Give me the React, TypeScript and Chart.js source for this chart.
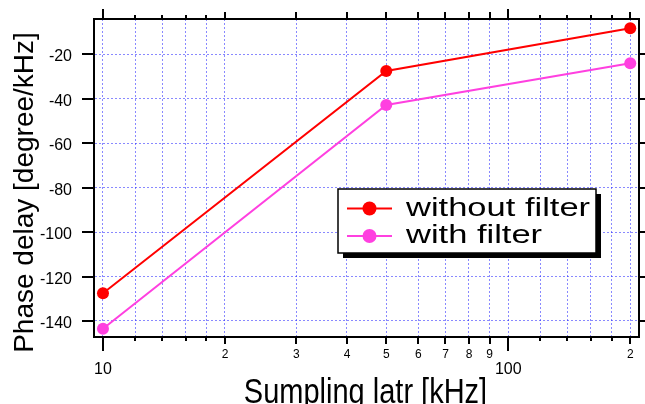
import { useEffect, useRef } from 'react';
import { Chart, registerables } from 'chart.js';
Chart.register(...registerables);

// ---- data ----
const samplingRates = [10, 50, 200];
const withoutFilter = [-127.5, -27.5, -8.3];
const withFilter = [-143.5, -42.8, -24];
const seriesNames = ['without filter', 'with filter'];
const seriesColors = ['#ff0000', '#ff40e0'];

const xTickValues = [10, 12, 14, 16, 18, 20, 30, 40, 50, 60, 70, 80, 90, 100, 120, 140, 160, 180, 200];
const xMajorTicks = [10, 100];
const xMajorLabels = ['10', '100'];
const xMinorLabeled = [20, 30, 40, 50, 60, 70, 80, 90, 200];
const xMinorLabels = ['2', '3', '4', '5', '6', '7', '8', '9', '2'];
const yTickValues = [-140, -120, -100, -80, -60, -40, -20];
const xTitle = 'Sumpling latr [kHz]';
const yTitle = 'Phase delay [degree/kHz]';

const FONT = '"Liberation Sans", Arial, sans-serif';

const decor = {
  id: 'decor',
  afterDraw(chart: any) {
    const { ctx, chartArea: a, scales } = chart;
    const xs = scales.x;
    const ys = scales.y;
    ctx.save();
    ctx.strokeStyle = '#000';
    ctx.fillStyle = '#000';
    ctx.lineWidth = 2;
    // frame
    ctx.strokeRect(a.left - 1, a.top, a.right - a.left + 1, a.bottom - a.top);

    // x ticks (bottom and top)
    xTickValues.forEach((v) => {
      const px = Math.round(xs.getPixelForValue(v));
      const major = xMajorTicks.includes(v);
      const labeled = xMinorLabeled.includes(v);
      const lb = major ? 14 : labeled ? 7 : 4;
      const lt = major ? 10 : labeled ? 7 : 4;
      ctx.beginPath();
      ctx.moveTo(px, a.bottom);
      ctx.lineTo(px, a.bottom + lb);
      ctx.moveTo(px, a.top);
      ctx.lineTo(px, a.top - lt);
      ctx.stroke();
    });
    // y ticks (left and right)
    yTickValues.forEach((v) => {
      const py = Math.round(ys.getPixelForValue(v));
      ctx.beginPath();
      ctx.moveTo(a.left - 1, py);
      ctx.lineTo(a.left - 13, py);
      ctx.moveTo(a.right, py);
      ctx.lineTo(a.right + 6, py);
      ctx.stroke();
    });

    // x labels
    ctx.textAlign = 'center';
    ctx.textBaseline = 'alphabetic';
    ctx.font = `16px ${FONT}`;
    xMajorTicks.forEach((v, i) => {
      ctx.fillText(xMajorLabels[i], xs.getPixelForValue(v), a.bottom + 37);
    });
    ctx.font = `12px ${FONT}`;
    xMinorLabeled.forEach((v, i) => {
      ctx.fillText(xMinorLabels[i], xs.getPixelForValue(v), a.bottom + 21);
    });
    // y labels
    ctx.textAlign = 'right';
    ctx.font = `16px ${FONT}`;
    yTickValues.forEach((v) => {
      ctx.fillText(String(v), 72, ys.getPixelForValue(v) + 7);
    });

    // titles
    ctx.textAlign = 'center';
    ctx.save();
    ctx.translate(365.5, 403);
    ctx.scale(1, 1.2);
    ctx.font = `29px ${FONT}`;
    ctx.fillText(xTitle, 0, 0);
    ctx.restore();
    ctx.save();
    ctx.translate(33, 192.5);
    ctx.rotate(-Math.PI / 2);
    ctx.font = `28px ${FONT}`;
    ctx.fillText(yTitle, 0, 0);
    ctx.restore();

    // legend
    const bx = 338, by = 189, bw = 258, bh = 64;
    ctx.fillStyle = '#000';
    ctx.fillRect(bx + 5, by + 5, bw, bh);
    ctx.fillStyle = '#fff';
    ctx.fillRect(bx, by, bw, bh);
    ctx.lineWidth = 1.5;
    ctx.strokeRect(bx, by, bw, bh);
    const rows = [208.5, 236];
    chart.data.datasets.forEach((ds: any, i: number) => {
      const ry = rows[i];
      ctx.strokeStyle = ds.borderColor;
      ctx.lineWidth = 2;
      ctx.beginPath();
      ctx.moveTo(347, ry);
      ctx.lineTo(392, ry);
      ctx.stroke();
      ctx.fillStyle = ds.backgroundColor;
      ctx.beginPath();
      ctx.arc(369.5, ry, 7, 0, Math.PI * 2);
      ctx.fill();
      ctx.fillStyle = '#000';
      ctx.font = `25px ${FONT}`;
      ctx.textAlign = 'left';
      ctx.save();
      ctx.translate(406, ry + 7);
      ctx.scale(1.38, 1);
      ctx.fillText(ds.label, 0, 0);
      ctx.restore();
    });
    ctx.restore();
  },
};

export default function App() {
  const ref = useRef<HTMLCanvasElement>(null);
  useEffect(() => {
    document.body.style.margin = '0';
    const mk = (vals: number[]) => samplingRates.map((x, i) => ({ x, y: vals[i] }));
    const gridCommon = {
      color: 'rgba(40,40,255,0.55)',
      lineWidth: 1,
      drawTicks: false,
    };
    const chart = new Chart(ref.current!, {
      type: 'line',
      data: {
        datasets: [
          {
            label: seriesNames[0],
            data: mk(withoutFilter),
            borderColor: seriesColors[0],
            backgroundColor: seriesColors[0],
            borderWidth: 2,
            pointRadius: 6,
            pointBorderWidth: 0,
            tension: 0,
          },
          {
            label: seriesNames[1],
            data: mk(withFilter),
            borderColor: seriesColors[1],
            backgroundColor: seriesColors[1],
            borderWidth: 2,
            pointRadius: 6,
            pointBorderWidth: 0,
            tension: 0,
          },
        ],
      },
      options: {
        responsive: false,
        animation: false,
        devicePixelRatio: 1,
        layout: { padding: { left: 95, top: 19, right: 5, bottom: 67 } },
        plugins: { legend: { display: false }, tooltip: { enabled: false } },
        scales: {
          x: {
            type: 'logarithmic',
            min: 9.557,
            max: 210.2,
            ticks: { display: false },
            grid: gridCommon,
            border: { display: false, dash: [2, 2] },
            afterBuildTicks: (s: any) => {
              s.ticks = xTickValues.map((v) => ({ value: v }));
            },
          },
          y: {
            type: 'linear',
            min: -147.2,
            max: -4.12,
            ticks: { display: false },
            grid: gridCommon,
            border: { display: false, dash: [2, 2] },
            afterBuildTicks: (s: any) => {
              s.ticks = yTickValues.map((v) => ({ value: v }));
            },
          },
        },
      },
      plugins: [decor],
    } as any);
    return () => chart.destroy();
  }, []);
  return <canvas ref={ref} width={645} height={404} style={{ display: 'block' }} />;
}
